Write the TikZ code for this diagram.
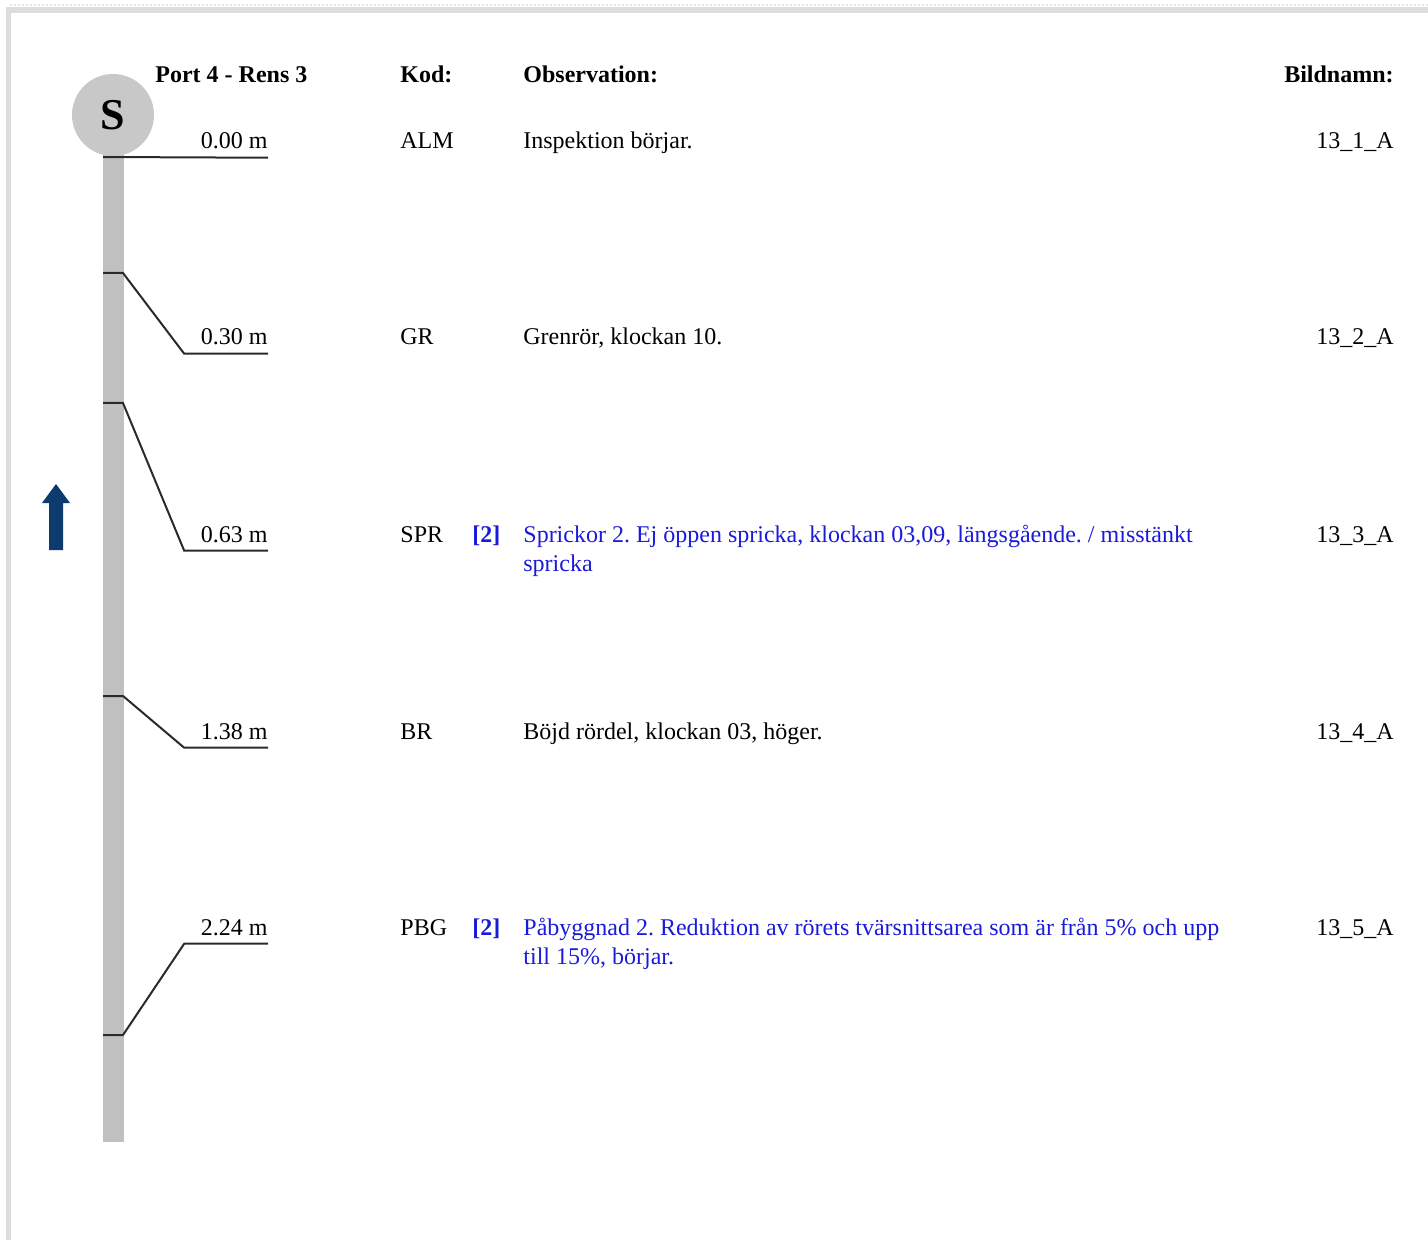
\documentclass[tikz,border=0pt]{standalone}
\usepackage{fontspec}
\setmainfont{Liberation Serif}
\usetikzlibrary{positioning}
\definecolor{rim}{HTML}{DDDDDD}
\definecolor{pipegray}{HTML}{C0C0C0}
\definecolor{headgray}{HTML}{C8C8C8}
\definecolor{ink}{HTML}{2A2A2A}
\definecolor{obsblue}{HTML}{1A1ADC}
\definecolor{flow}{HTML}{0D3B6E}
\frenchspacing
\tikzset{txt/.style={font=\fontsize{12pt}{14.5pt}\selectfont,inner sep=0pt,anchor=base west},
  hdr/.style={txt,font=\fontsize{12pt}{14.5pt}\selectfont\bfseries},
  dist/.style={txt,anchor=base east,text width=41.5pt,align=flush right,inner ysep=4pt},
  img/.style={txt,anchor=base east},
  obs/.style={txt,text width=358pt,align=flush left},
  grade/.style={hdr,text=obsblue},
  tick/.style={draw=ink,line width=1pt}}
\begin{document}
\begin{tikzpicture}[x=0.5pt,y=-0.5pt]
\useasboundingbox (0,0) rectangle (1428,1240);
% frame
\fill[rim] (6,7) rectangle (1428,13);
\fill[rim] (6,7) rectangle (11,1240);
\draw[rim!70,line width=1pt,dash pattern=on 1pt off 1pt] (10,5) -- (1428,5);
% pipe and start
\fill[pipegray] (103,150) rectangle (124,1142);
\node[circle,fill=headgray,minimum size=41pt,inner sep=0pt] (start) at (113,115)
{\fontsize{22pt}{26pt}\selectfont\bfseries S};
% flow direction
\fill[flow] (49,550) -- (49,503) -- (42,503) -- (56,484) -- (70,503) -- (63,503) -- (63,550) -- cycle;
% headers
\node[hdr] (section) at (155,83) {Port 4 - Rens 3};
\node[hdr] (kod) at (400,83) {Kod:};
\node[hdr] (observation) at (523,83) {Observation:};
\node[hdr,anchor=base east] (bildnamn) at (1394,83) {Bildnamn:};
% rows
\coordinate (t1) at (103,157);
\node[dist] (d1) at (268,149) {0.00 m};
\node[txt] (k1) at (400,149) {ALM};
\node[txt] (o1) at (523,149) {Inspektion börjar.};
\node[img] (b1) at (1394,149) {13\_1\_A};

\coordinate (t2) at (103,273);
\node[dist] (d2) at (268,345) {0.30 m};
\node[txt] (k2) at (400,345) {GR};
\node[txt] (o2) at (523,345) {Grenrör, klockan 10.};
\node[img] (b2) at (1394,345) {13\_2\_A};

\coordinate (t3) at (103,403);
\node[dist] (d3) at (268,542) {0.63 m};
\node[txt] (k3) at (400,542) {SPR};
\node[grade] (g3) at (472,542) {[2]};
\node[obs,text=obsblue] (o3) at (523,542) {Sprickor 2. Ej öppen spricka, klockan 03,09, längsgående. / misstänkt spricka};
\node[img] (b3) at (1394,542) {13\_3\_A};

\coordinate (t4) at (103,696);
\node[dist] (d4) at (268,739) {1.38 m};
\node[txt] (k4) at (400,739) {BR};
\node[txt] (o4) at (523,739) {Böjd rördel, klockan 03, höger.};
\node[img] (b4) at (1394,739) {13\_4\_A};

\coordinate (t5) at (103,1035);
\node[dist] (d5) at (268,935) {2.24 m};
\node[txt] (k5) at (400,935) {PBG};
\node[grade] (g5) at (472,935) {[2]};
\node[obs,text=obsblue] (o5) at (523,935) {Påbyggnad 2. Reduktion av rörets tvärsnittsarea som är från 5\% och upp till 15\%, börjar.};
\node[img] (b5) at (1394,935) {13\_5\_A};
% markers
\draw[tick] (t1) -- (d1.south east);
\draw[tick] (t2) -- ++(20,0) -- (d2.south west) -- (d2.south east);
\draw[tick] (t3) -- ++(20,0) -- (d3.south west) -- (d3.south east);
\draw[tick] (t4) -- ++(20,0) -- (d4.south west) -- (d4.south east);
\draw[tick] (t5) -- ++(20,0) -- (d5.south west) -- (d5.south east);
\end{tikzpicture}
\end{document}
